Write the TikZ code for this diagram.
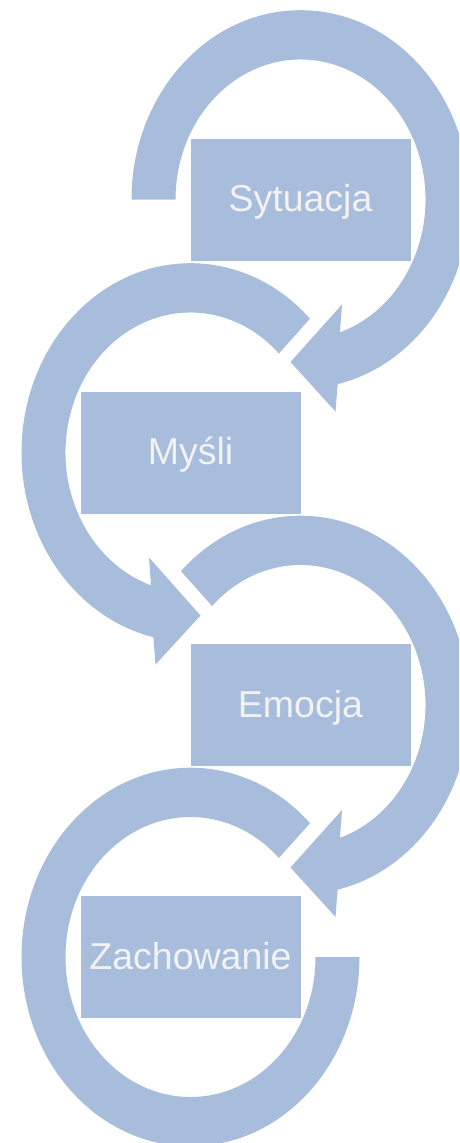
\documentclass[tikz,border=0pt]{standalone}
\usepackage{fontspec}
\setmainfont{Liberation Sans}
\usetikzlibrary{calc}
\definecolor{arcblue}{HTML}{A7BDDB}
\definecolor{boxtext}{HTML}{F2F2F2}
\begin{document}
\begin{tikzpicture}[x=1pt,y=-1pt,
  stepbox/.style={fill=arcblue, draw=white, line width=1pt,
    minimum width=221pt, minimum height=123pt, inner sep=0pt,
    text=boxtext, font=\fontsize{37.5}{45}\selectfont,
    text height=24.5pt, text depth=0pt},
  ring/.style={fill=arcblue},
  ro/.style={x radius=169, y radius=189.3},
  ri/.style={x radius=125, y radius=140}]
\useasboundingbox (0,0) rectangle (459,1143);
\clip (0,0) rectangle (459,1143);
\coordinate (C1) at (300.5,199.5);
\coordinate (C2) at (190.5,452.5);
\coordinate (C3) at (300.5,705);
\coordinate (C4) at (190.5,957);
% arc 1: starts flat at left, clockwise, arrowhead at lower left
\fill[ring] ($(C1)+(180:169 and 189.3)$) arc[ro, start angle=180, end angle=437.3]
  -- ($(C1)+(35,212)$) -- ($(C1)+(-10,162.5)$) -- ($(C1)+(41.5,105)$)
  -- ($(C1)+(431.6:125 and 140)$) arc[ri, start angle=431.6, end angle=180] -- cycle;
% arc 2: starts upper right, counterclockwise, arrowhead at lower right
\fill[ring] ($(C2)+(-45:169 and 189.3)$) arc[ro, start angle=-45, end angle=-257.3]
  -- ($(C2)+(-35,212)$) -- ($(C2)+(10,163)$) -- ($(C2)+(-41.5,105)$)
  -- ($(C2)+(-251.6:125 and 140)$) arc[ri, start angle=-251.6, end angle=-45] -- cycle;
% arc 3: starts upper left, clockwise, arrowhead at lower left
\fill[ring] ($(C3)+(225:169 and 189.3)$) arc[ro, start angle=225, end angle=437.3]
  -- ($(C3)+(35,212)$) -- ($(C3)+(-10,162.5)$) -- ($(C3)+(41.5,105)$)
  -- ($(C3)+(431.6:125 and 140)$) arc[ri, start angle=431.6, end angle=225] -- cycle;
% arc 4: starts upper right, counterclockwise, ends flat at right
\fill[ring] ($(C4)+(-45:169 and 189.3)$) arc[ro, start angle=-45, end angle=-360]
  -- ($(C4)+(-360:125 and 140)$) arc[ri, start angle=-360, end angle=-45] -- cycle;
% boxes
\node[stepbox] (s1) at (C1) {Sytuacja};
\node[stepbox] (s2) at (C2) {Myśli};
\node[stepbox] (s3) at (C3) {Emocja};
\node[stepbox] (s4) at (C4) {Zachowanie};
\end{tikzpicture}
\end{document}
